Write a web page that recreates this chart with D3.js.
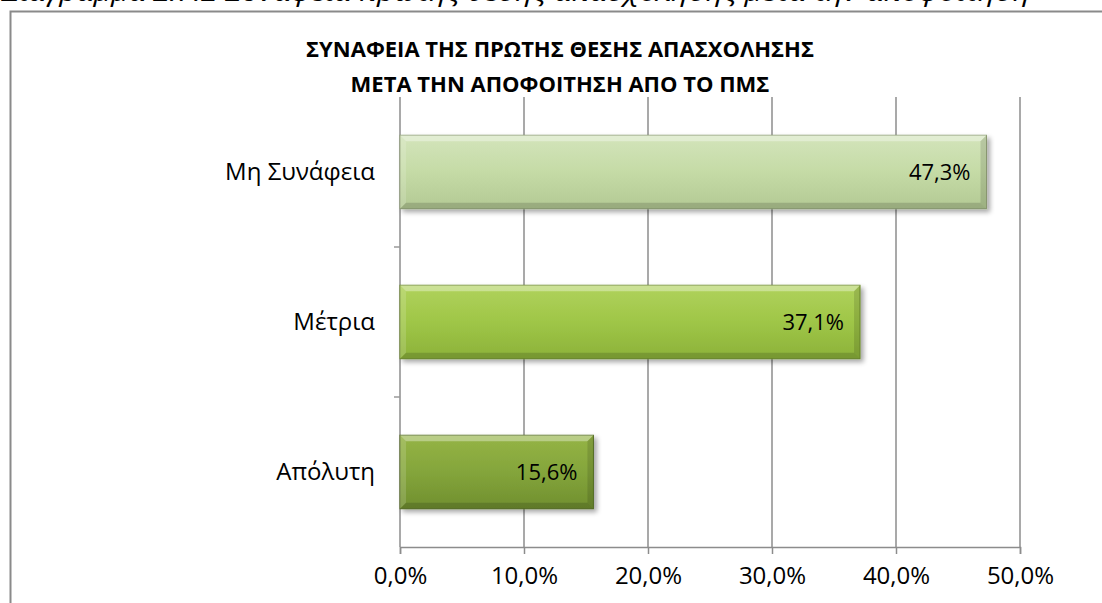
<!DOCTYPE html>
<html>
<head>
<meta charset="utf-8">
<script src="https://cdn.jsdelivr.net/npm/d3@7"></script>
<style>
  html, body { margin: 0; padding: 0; background: #fff; overflow: hidden; }
  svg { display: block; font-family: "Open Sans", "Noto Sans", sans-serif; }
</style>
</head>
<body>
<div id="chart"></div>
<script>
// Συνάφεια πρώτης θέσης απασχόλησης
const caption = "Διάγραμμα Σ.7.2 Συνάφεια πρώτης θέσης απασχόλησης μετά την αποφοίτηση";
const titleLines = ["ΣΥΝΑΦΕΙΑ ΤΗΣ ΠΡΩΤΗΣ ΘΕΣΗΣ ΑΠΑΣΧΟΛΗΣΗΣ", "ΜΕΤΑ ΤΗΝ ΑΠΟΦΟΙΤΗΣΗ ΑΠΟ ΤΟ ΠΜΣ"];
const categories = ["Μη Συνάφεια", "Μέτρια", "Απόλυτη"];
const values = [0.473, 0.371, 0.156];
const ticks = [0, 0.1, 0.2, 0.3, 0.4, 0.5];

const barColors = [
  { top: "#d3e4bb", mid: "#c5dba6", bot: "#b3c994" },
  { top: "#b0d25d", mid: "#9fc647", bot: "#8cb23a" },
  { top: "#95b446", mid: "#84a53b", bot: "#708f2f" }
];

const fmt = d => d3.format(".1%")(d).replace(".", ",");

const W = 1102, H = 603;
const margin = { top: 97, left: 400, right: 82, bottom: 56 };
const iw = W - margin.left - margin.right;
const ih = H - margin.top - margin.bottom;

const svg = d3.select("#chart").append("svg").attr("width", W).attr("height", H);
const defs = svg.append("defs");

// caption, mostly above the top edge as in the scan
svg.append("text")
  .attr("x", 2).attr("y", 1)
  .attr("font-style", "italic")
  .attr("font-size", 26)
  .attr("textLength", 1028).attr("lengthAdjust", "spacingAndGlyphs")
  .attr("fill", "#000")
  .text(caption);

// chart frame
svg.append("rect")
  .attr("x", 10.5).attr("y", 11.5)
  .attr("width", W + 20).attr("height", H + 20)
  .attr("fill", "#fff")
  .attr("stroke", "#8a8a8a").attr("stroke-width", 2);

// title
svg.append("text")
  .attr("x", 560).attr("y", 57)
  .attr("text-anchor", "middle")
  .attr("font-weight", "bold").attr("font-size", 22).attr("fill", "#000")
  .selectAll("tspan").data(titleLines).join("tspan")
  .attr("x", 560).attr("dy", (d, i) => i ? 35 : 0)
  .text(d => d);

const g = svg.append("g").attr("transform", `translate(${margin.left},${margin.top})`);

const x = d3.scaleLinear().domain([0, 0.5]).range([0, iw]);
const y = d3.scaleBand().domain(categories).range([0, ih]).paddingInner(0.51).paddingOuter(0.255);

// gridlines
g.append("g").selectAll("line").data(ticks).join("line")
  .attr("x1", d => x(d)).attr("x2", d => x(d))
  .attr("y1", 0).attr("y2", ih)
  .attr("stroke", "#8c8c8c").attr("stroke-width", 1.5);

// bottom axis
const xAxis = g.append("g")
  .attr("transform", `translate(0,${ih})`)
  .call(d3.axisBottom(x).tickValues(ticks).tickSize(7).tickPadding(13).tickFormat(d => fmt(d)));
xAxis.select(".domain").attr("stroke", "#8c8c8c").attr("stroke-width", 1.5);
xAxis.selectAll(".tick line").attr("stroke", "#8c8c8c").attr("stroke-width", 1.5);
xAxis.selectAll(".tick text").attr("font-size", 24).attr("fill", "#000")
  .attr("font-family", "Open Sans, Noto Sans, sans-serif");

// category separators on the left
const step = y.step();
g.append("g").selectAll("line").data([1, 2]).join("line")
  .attr("x1", -6).attr("x2", 0)
  .attr("y1", d => d * step).attr("y2", d => d * step)
  .attr("stroke", "#9a9a9a").attr("stroke-width", 1.5);

// category labels
g.append("g").selectAll("text").data(categories).join("text")
  .attr("x", -25)
  .attr("y", d => y(d) + y.bandwidth() / 2)
  .attr("dy", "0.35em")
  .attr("text-anchor", "end")
  .attr("font-size", 24).attr("fill", "#000")
  .text(d => d);

// shadow filter
const f = defs.append("filter").attr("id", "shadow").attr("x", "-5%").attr("y", "-20%").attr("width", "115%").attr("height", "150%");
f.append("feGaussianBlur").attr("in", "SourceAlpha").attr("stdDeviation", 2.5);
f.append("feOffset").attr("dx", 3).attr("dy", 3).attr("result", "b");
f.append("feComponentTransfer").append("feFuncA").attr("type", "linear").attr("slope", 0.35);
const fm = f.append("feMerge");
fm.append("feMergeNode");
fm.append("feMergeNode").attr("in", "SourceGraphic");

barColors.forEach((c, i) => {
  const lg = defs.append("linearGradient").attr("id", "grad" + i).attr("x1", 0).attr("y1", 0).attr("x2", 0).attr("y2", 1);
  lg.append("stop").attr("offset", "0%").attr("stop-color", c.top);
  lg.append("stop").attr("offset", "50%").attr("stop-color", c.mid);
  lg.append("stop").attr("offset", "100%").attr("stop-color", c.bot);
});

const data = categories.map((name, i) => ({ name, value: values[i], i }));
const bars = g.append("g").selectAll("g").data(data).join("g")
  .attr("transform", d => `translate(0,${y(d.name)})`);

const bh = y.bandwidth();
const bev = 6;

bars.append("rect")
  .attr("x", 0).attr("y", 0)
  .attr("width", d => x(d.value)).attr("height", bh)
  .attr("fill", d => `url(#grad${d.i})`)
  .attr("stroke", d => d3.color(barColors[d.i].bot).darker(0.6))
  .attr("stroke-width", 1)
  .attr("filter", "url(#shadow)");

// bevel: light top strip, dark bottom and right strips
bars.append("path")
  .attr("d", d => { const w = x(d.value); return `M0,0H${w}L${w - bev},${bev}H${bev}Z`; })
  .attr("fill", "#fff").attr("opacity", 0.35);
bars.append("path")
  .attr("d", d => { const w = x(d.value); return `M0,${bh}H${w}L${w - bev},${bh - bev}H${bev}Z`; })
  .attr("fill", "#000").attr("opacity", 0.15);
bars.append("path")
  .attr("d", d => { const w = x(d.value); return `M${w},0V${bh}L${w - bev},${bh - bev}V${bev}Z`; })
  .attr("fill", "#000").attr("opacity", 0.12);
bars.append("path")
  .attr("d", `M0,0V${bh}L${bev},${bh - bev}V${bev}Z`)
  .attr("fill", "#fff").attr("opacity", 0.15);

// value labels
bars.append("text")
  .attr("x", d => x(d.value) - 16)
  .attr("y", bh / 2)
  .attr("dy", "0.35em")
  .attr("text-anchor", "end")
  .attr("font-size", 22).attr("fill", "#000")
  .text(d => fmt(d.value));
</script>
</body>
</html>
